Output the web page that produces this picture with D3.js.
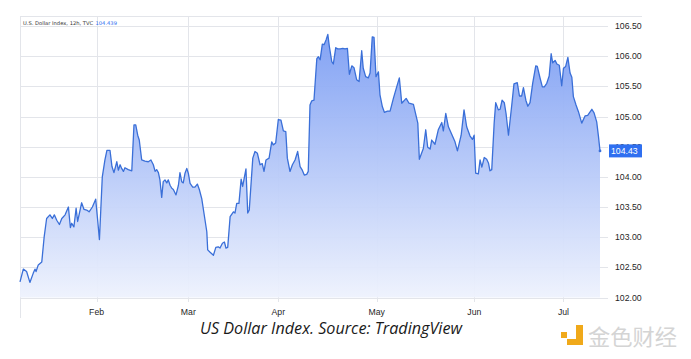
<!DOCTYPE html>
<html><head><meta charset="utf-8">
<script src="https://cdn.jsdelivr.net/npm/d3@7/dist/d3.min.js"></script>
<style>
html,body{margin:0;padding:0;background:#fff;}
svg{display:block;}
</style></head>
<body>
<svg id="chart" width="691" height="359"></svg>
<script>
// 12h bar index (trading sessions from start of the window)
const bars = [0,1.5,3.0,4.5,6.0,6.8,7.3,8.3,9.9,11.0,12.1,13.6,14.7,15.6,16.7,17.9,19.0,20.5,22.0,22.9,23.5,24.5,25.5,26.2,27.3,28.0,29.1,30.3,31.4,32.9,34.4,35.3,36.1,37.4,38.6,39.5,40.9,41.8,42.7,44.0,44.7,45.5,46.2,47.0,47.7,49.2,50.8,51.8,52.6,53.5,54.2,55.3,56.8,58.3,59.5,60.6,61.4,62.1,62.9,63.6,64.4,65.1,65.9,66.7,67.4,68.2,69.0,69.7,70.9,72.0,72.7,73.5,74.2,75.0,75.8,76.5,77.3,78.5,79.5,80.6,81.5,82.6,84.1,84.9,85.3,86.4,87.9,89.0,90.1,90.9,92.0,92.9,93.6,94.4,95.5,97.0,97.7,98.5,99.5,100.5,101.2,102.7,103.5,104.2,105.8,106.8,107.9,109.1,110.1,110.9,111.8,113.2,114.4,115.1,116.2,117.4,118.6,119.7,120.8,121.5,122.7,123.8,125.0,126.2,127.3,128.3,129.2,130.3,131.0,131.8,132.6,133.6,134.9,135.6,136.4,137.4,138.2,139.1,139.9,140.6,141.7,142.4,143.5,144.4,145.5,146.7,147.7,148.8,149.7,150.8,151.8,153.0,154.1,155.3,156.0,157.1,158.3,159.1,160.1,160.9,161.8,162.9,163.6,164.7,165.6,167.0,168.2,169.7,171.2,172.4,173.5,175.5,176.8,178.8,180.8,181.5,183.3,184.4,185.3,186.4,187.1,188.6,190.1,191.7,192.4,193.5,194.7,195.9,197.7,198.8,200.5,201.8,203.0,204.5,205.6,206.4,207.1,208.3,209.1,209.9,211.0,212.1,212.9,213.6,214.4,215.5,216.2,217.4,218.2,219.1,220.1,220.9,222.0,223.5,224.5,226.0,227.0,228.0,228.8,229.9,230.8,231.8,233.0,234.4,235.1,236.4,237.4,238.3,239.4,240.5,241.4,242.1,243.2,244.0,245.1,246.2,247.0,248.0,249.0,250.0,250.8,251.5,252.7,253.8,255.3,256.8,258.0,259.9,260.9,262.1,262.9,263.6];

const values = [102.26,102.47,102.43,102.25,102.40,102.47,102.43,102.54,102.59,103.01,103.31,103.37,103.31,103.37,103.28,103.21,103.31,103.37,103.50,103.16,103.23,103.17,103.48,103.26,103.45,103.57,103.46,103.45,103.42,103.50,103.63,103.28,102.96,104.00,104.28,104.44,104.44,104.17,104.07,104.25,104.11,104.20,104.14,104.09,104.15,104.12,104.10,104.86,104.86,104.69,104.61,104.28,104.26,104.25,104.28,104.20,104.09,104.12,104.07,103.95,103.66,103.92,103.95,103.90,103.95,103.86,103.81,103.79,103.70,103.86,104.07,103.92,103.90,104.06,104.14,104.06,103.89,103.83,103.83,103.88,103.79,103.64,103.28,103.09,102.79,102.75,102.70,102.83,102.84,102.82,102.90,102.92,102.82,102.83,103.34,103.42,103.40,103.56,103.56,103.96,103.84,104.13,103.40,103.45,104.31,104.42,104.39,104.20,104.22,104.09,104.28,104.31,104.58,104.53,104.56,104.95,104.94,104.76,104.75,104.31,104.09,104.20,104.28,104.42,104.17,104.11,104.03,104.04,104.09,105.19,105.26,105.27,105.96,105.99,105.94,106.20,106.19,106.27,106.36,106.16,105.91,105.87,106.14,106.12,106.12,106.13,106.12,106.13,105.70,105.84,105.81,105.61,105.58,106.09,105.80,105.66,105.64,105.72,106.32,106.31,105.66,105.74,105.36,105.16,105.07,105.09,105.09,105.30,105.49,105.64,105.22,105.30,105.22,105.20,104.89,104.29,104.47,104.78,104.49,104.46,104.61,104.54,104.78,104.90,104.76,105.05,104.83,104.73,104.58,104.43,104.69,105.11,104.83,104.68,104.62,104.69,104.06,104.05,104.28,104.16,104.32,104.29,104.23,104.10,104.12,104.89,105.23,105.11,105.12,105.27,105.23,105.05,104.69,105.19,105.54,105.56,105.34,105.34,105.48,105.27,105.17,105.23,105.55,105.84,105.83,105.63,105.49,105.49,105.55,105.67,106.04,105.89,105.93,105.87,105.85,105.51,105.80,105.83,105.98,105.72,105.65,105.33,105.19,105.08,104.89,105.01,105.02,105.12,105.06,104.91,104.67,104.43];

const monthLabels = ["Feb","Mar","Apr","May","Jun","Jul"];
const monthBars = [34.8,76.5,117.4,162.1,206.5,247.0];
const yTicks = [102.0,102.5,103.0,103.5,104.0,104.5,105.0,105.5,106.0,106.5];
const lastPrice = "104.43";
const headerTitle = "U.S. Dollar Index, 12h, TVC";
const headerValue = "104.439";
const caption = "US Dollar Index. Source: TradingView";

if (bars.length !== values.length) throw new Error("length mismatch " + bars.length + " vs " + values.length);
const data = bars.map((b, i) => ({b, v: values[i]}));

const svg = d3.select("#chart");
const L = 20, R = 608, T = 16, B = 297.5;
const x = d3.scaleLinear().domain([0, 263.6]).range([L, 600]);
const y = d3.scaleLinear().domain([102, 106.5]).range([B, 26]);

const grid = svg.append("g");
// horizontal grid
grid.selectAll("line.h").data(yTicks).join("line")
  .attr("x1", L).attr("x2", R)
  .attr("y1", d => Math.round(y(d)) + 0.5).attr("y2", d => Math.round(y(d)) + 0.5)
  .attr("stroke", "#e3e5ea").attr("stroke-width", 1);
// vertical grid
grid.selectAll("line.v").data(monthBars).join("line")
  .attr("x1", d => Math.round(x(d)) + 0.5).attr("x2", d => Math.round(x(d)) + 0.5)
  .attr("y1", T).attr("y2", 302)
  .attr("stroke", "#e3e5ea").attr("stroke-width", 1);
// borders
grid.append("line").attr("x1", L).attr("x2", 642).attr("y1", T + 0.5).attr("y2", T + 0.5).attr("stroke", "#e3e5ea");
grid.append("line").attr("x1", L + 0.5).attr("x2", L + 0.5).attr("y1", T).attr("y2", 318).attr("stroke", "#e3e5ea");

// gradient
const defs = svg.append("defs");
const grad = defs.append("linearGradient").attr("id", "ag")
  .attr("gradientUnits", "userSpaceOnUse").attr("x1", 0).attr("x2", 0).attr("y1", 30).attr("y2", B);
grad.append("stop").attr("offset", "0%").attr("stop-color", "#7a9cf3");
grad.append("stop").attr("offset", "100%").attr("stop-color", "#eef2fd");

const area = d3.area().x(d => x(d.b)).y0(B).y1(d => y(d.v));
const line = d3.line().x(d => x(d.b)).y(d => y(d.v));

svg.append("path").datum(data).attr("d", area).attr("fill", "url(#ag)").attr("fill-opacity", 0.95);
svg.append("path").datum(data).attr("d", line).attr("fill", "none")
  .attr("stroke", "#3a6fd8").attr("stroke-width", 1.3).attr("stroke-linejoin", "round");
const last = data[data.length - 1];
svg.append("circle").attr("cx", x(last.b)).attr("cy", y(last.v)).attr("r", 1.4).attr("fill", "#3a6fd8");

// y axis labels
svg.append("g").selectAll("text").data(yTicks).join("text")
  .attr("x", 615).attr("y", d => y(d)).attr("dy", "0.35em")
  .attr("font-family", "Liberation Sans, Arial, sans-serif").attr("font-size", 8.7)
  .attr("fill", "#1f1f1f").text(d => d.toFixed(2));

// price label
svg.append("rect").attr("x", 609).attr("y", y(last.v) - 6.5).attr("width", 33).attr("height", 13)
  .attr("fill", "#2f6ff0");
svg.append("text").attr("x", 611).attr("y", y(last.v)).attr("dy", "0.35em")
  .attr("font-family", "Liberation Sans, Arial, sans-serif").attr("font-size", 8.7)
  .attr("fill", "#ffffff").text(lastPrice);

// month labels
svg.append("g").selectAll("text").data(monthBars).join("text")
  .attr("x", d => x(d)).attr("y", 312).attr("dy", "0.35em").attr("text-anchor", "middle")
  .attr("font-family", "Liberation Sans, Arial, sans-serif").attr("font-size", 8.7)
  .attr("fill", "#1f1f1f").text((d, i) => monthLabels[i]);

// header
svg.append("text").attr("x", 23).attr("y", 24.5)
  .attr("font-family", "DejaVu Sans, sans-serif").attr("font-size", 5.2)
  .attr("fill", "#333").text(headerTitle);
svg.append("text").attr("x", 95.5).attr("y", 24.5)
  .attr("font-family", "DejaVu Sans, sans-serif").attr("font-size", 5.2)
  .attr("fill", "#2f6ff0").text(headerValue);

// caption
svg.append("text").attr("x", 331).attr("y", 334).attr("text-anchor", "middle")
  .attr("font-family", "Open Sans, sans-serif").attr("font-style", "italic").attr("font-size", 16.5)
  .attr("textLength", 262).attr("lengthAdjust", "spacingAndGlyphs")
  .attr("fill", "#1a1a1a").text(caption);

// watermark
const wm = svg.append("g");
wm.append("rect").attr("x", 561).attr("y", 332).attr("width", 6).attr("height", 6).attr("fill", "#f0a91a");
wm.append("rect").attr("x", 576).attr("y", 325).attr("width", 7).attr("height", 20).attr("fill", "#f0a91a");
wm.append("rect").attr("x", 567).attr("y", 339).attr("width", 16).attr("height", 6).attr("fill", "#f0a91a");
wm.append("text").attr("x", 588).attr("y", 345)
  .attr("font-family", "Noto Sans CJK SC, sans-serif").attr("font-size", 21.5)
  .attr("textLength", 89).attr("lengthAdjust", "spacingAndGlyphs")
  .attr("fill", "#d4d4d4").text("金色财经");
</script>
</body></html>
